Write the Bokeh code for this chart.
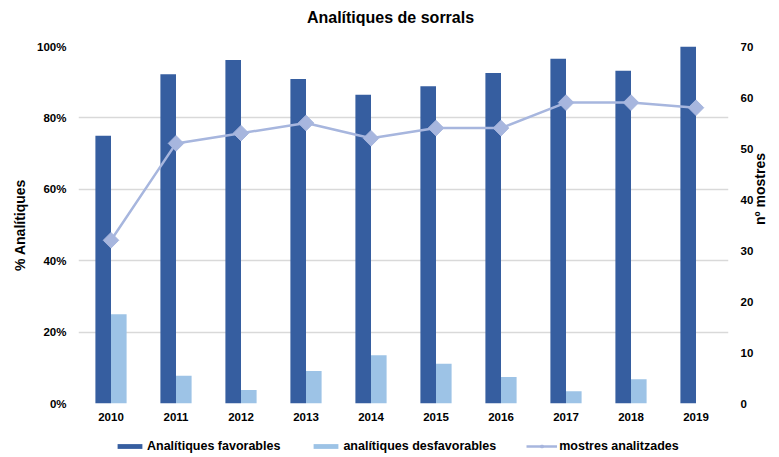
import math
from bokeh.plotting import figure
from bokeh.layouts import column
from bokeh.models import (Range1d, LinearAxis, FixedTicker, PrintfTickFormatter,
                          Legend, LegendItem, FactorRange, ColumnDataSource, Label)
from bokeh.transform import dodge
from bokeh.embed import file_html
from bokeh.resources import INLINE

years = ["2010", "2011", "2012", "2013", "2014", "2015", "2016", "2017", "2018", "2019"]
favorables = [75.0, 92.2, 96.2, 90.9, 86.5, 88.9, 92.6, 96.6, 93.2, 100.0]
desfavorables = [25.0, 7.8, 3.8, 9.1, 13.5, 11.1, 7.4, 3.4, 6.8, 0.0]
mostres = [32, 51, 53, 55, 52, 54, 54, 59, 59, 58]
pct_ticks = [0, 20, 40, 60, 80, 100]
n_ticks = [0, 10, 20, 30, 40, 50, 60, 70]
series_names = ["Analítiques favorables", "analítiques desfavorables", "mostres analitzades"]
title_text = "Analítiques de sorrals"

FONT = "Liberation Sans"
DARK = "#365EA0"
LIGHT = "#9DC3E6"
LINE = "#A7B6DE"
GRID = "#D9D9D9"

src = ColumnDataSource(dict(year=years, fav=favorables, desf=desfavorables, n=mostres))


def draw_series(fig, y2_name=None, marker_size=11):
    r1 = fig.vbar(x=dodge("year", -0.12, range=fig.x_range), top="fav", width=0.24, source=src,
                  fill_color=DARK, line_color=None)
    r2 = fig.vbar(x=dodge("year", 0.12, range=fig.x_range), top="desf", width=0.24, source=src,
                  fill_color=LIGHT, line_color=None)
    kw = {"y_range_name": y2_name} if y2_name else {}
    r3 = fig.line(x="year", y="n", source=src, line_color=LINE, line_width=2.5, **kw)
    r4 = fig.scatter(x="year", y="n", source=src, marker="square", size=marker_size,
                     angle=0.785398, fill_color=LINE, line_color=LINE, **kw)
    return r1, r2, r3, r4


def strip(height):
    f = figure(width=779, height=height, x_range=Range1d(0, 1), y_range=Range1d(0, 1),
               output_backend="svg", toolbar_location=None, x_axis_type=None, y_axis_type=None,
               min_border_left=78, min_border_right=47, min_border_top=0, min_border_bottom=0)
    f.outline_line_color = None
    f.xgrid.grid_line_color = None
    f.ygrid.grid_line_color = None
    return f


# title strip
ts = strip(34)
ts.add_layout(Label(x=0.48, y=0.5, text=title_text, text_align="center", text_baseline="middle",
                    text_font=FONT, text_font_size="16px", text_font_style="bold",
                    text_color="#000000"))

p = figure(width=779, height=396, x_range=FactorRange(*years), y_range=Range1d(0, 100),
           output_backend="svg", toolbar_location=None,
           min_border_left=78, min_border_right=47, min_border_top=12, min_border_bottom=27)
p.extra_y_ranges = {"n": Range1d(0, 70)}
p.outline_line_color = None

draw_series(p, "n")

# left axis
ya = p.yaxis[0]
ya.ticker = FixedTicker(ticks=pct_ticks)
ya.formatter = PrintfTickFormatter(format="%d%%")
ya.axis_label = "% Analítiques"

# right axis
ra = LinearAxis(y_range_name="n", ticker=FixedTicker(ticks=n_ticks), axis_label="nº mostres")
p.add_layout(ra, "right")

for ax in [ya, ra, p.xaxis[0]]:
    ax.axis_line_color = None
    ax.major_tick_line_color = None
    ax.minor_tick_line_color = None
    ax.major_tick_out = 0
    ax.major_tick_in = 0
    ax.major_label_text_font = FONT
    ax.major_label_text_font_size = "11.5px"
    ax.major_label_text_font_style = "bold"
    ax.major_label_text_color = "#000000"
    ax.axis_label_text_font = FONT
    ax.axis_label_text_font_size = "14px"
    ax.axis_label_text_font_style = "bold"
    ax.axis_label_text_color = "#000000"

ya.major_label_standoff = 12
ra.major_label_standoff = 12
p.xaxis[0].major_label_standoff = 9
ya.axis_label_standoff = 6
ra.axis_label_standoff = 4
ra.axis_label_orientation = math.pi / 2

p.xgrid.grid_line_color = None
p.ygrid.grid_line_color = GRID
p.ygrid.grid_line_width = 1.5

# legend strip below the chart (same series, drawn outside its visible range)
lg = figure(width=779, height=27, x_range=FactorRange(*years), y_range=Range1d(1000, 1001),
            output_backend="svg", toolbar_location=None, x_axis_type=None, y_axis_type=None,
            min_border_left=78, min_border_right=47, min_border_top=0, min_border_bottom=0)
lg.outline_line_color = None
lg.xgrid.grid_line_color = None
lg.ygrid.grid_line_color = None
g_fav, g_desf, g_line, g_mark = draw_series(lg, None, marker_size=8)

legend = Legend(items=[
    LegendItem(label=series_names[0], renderers=[g_fav]),
    LegendItem(label=series_names[1], renderers=[g_desf]),
    LegendItem(label=series_names[2], renderers=[g_line, g_mark]),
], orientation="horizontal", location=(36, 4))
legend.label_text_font = FONT
legend.label_text_font_size = "12.5px"
legend.label_text_font_style = "bold"
legend.label_text_color = "#000000"
legend.glyph_width = 31
legend.glyph_height = 6
legend.label_standoff = 2
legend.spacing = 30
legend.padding = 0
legend.margin = 0
legend.border_line_color = None
legend.background_fill_alpha = 0
lg.add_layout(legend, "center")

layout = column(ts, p, lg, spacing=0)
open("out.html", "w").write(file_html(layout, INLINE))
